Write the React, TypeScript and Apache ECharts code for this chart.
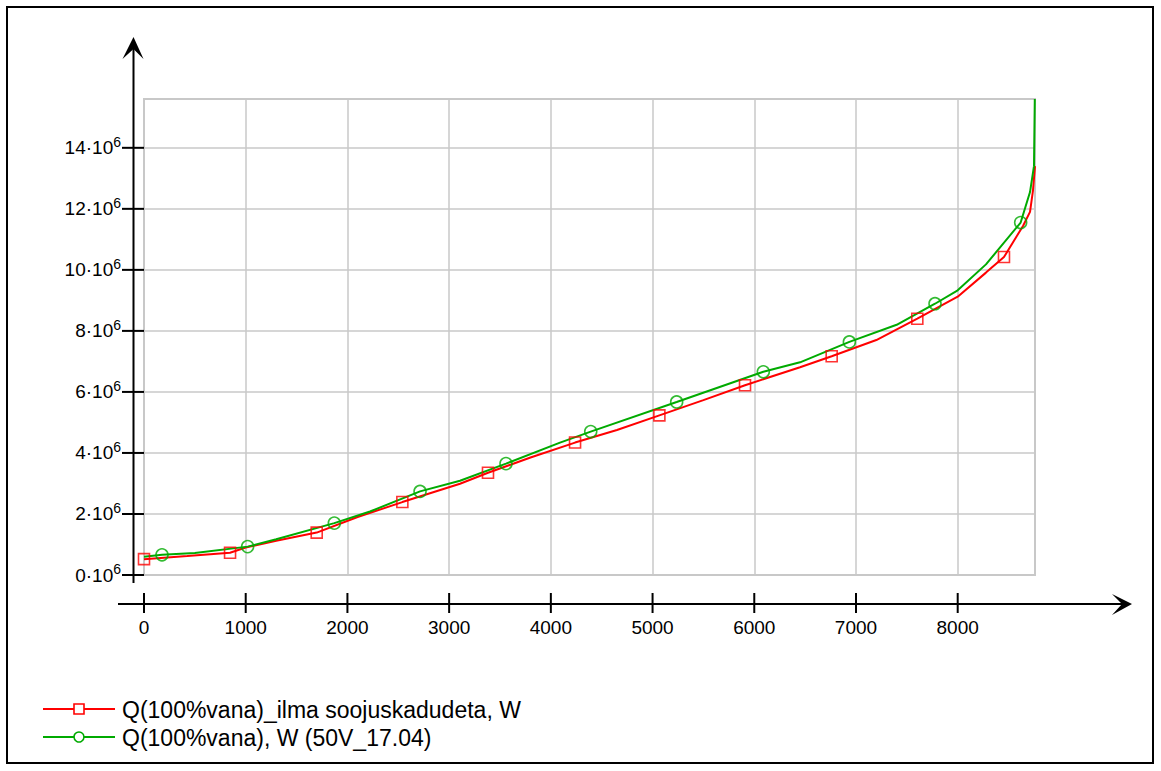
import React, { useEffect, useRef } from "react";
import * as echarts from "echarts";

// Hours of year (x) and heat load in 10^6 W (y)
const redCurve: number[][] = [
  [425, 0.62], [1000, 0.9], [1300, 1.12], [2100, 1.9], [3107, 2.99], [3800, 3.85],
  [4650, 4.75], [5500, 5.73], [6450, 6.81], [7200, 7.7], [8000, 9.12], [8278, 9.91],
  [8642, 11.44], [8711, 11.9], [8740, 12.6], [8760, 13.4],
];
const redMarkers: number[][] = [
  [0, 0.52], [846, 0.73], [1698, 1.39], [2540, 2.39], [3382, 3.35], [4238, 4.34],
  [5067, 5.23], [5909, 6.22], [6761, 7.17], [7603, 8.4], [8455, 10.42],
];
const greenCurve: number[][] = [
  [0, 0.6], [500, 0.72], [1300, 1.17], [2222, 2.08], [3107, 3.09], [4090, 4.34],
  [6450, 6.97], [7400, 8.2], [8000, 9.33], [8278, 10.18], [8711, 12.55], [8750, 13.4],
  [8758, 15.6],
];
const greenMarkers: number[][] = [
  [177, 0.66], [1019, 0.93], [1871, 1.7], [2714, 2.74], [3559, 3.65], [4392, 4.7],
  [5237, 5.67], [6089, 6.66], [6935, 7.64], [7777, 8.89], [8619, 11.55],
];
const xTicks = [0, 1000, 2000, 3000, 4000, 5000, 6000, 7000, 8000];
const yTicks = [0, 2, 4, 6, 8, 10, 12, 14];
const seriesNames = ["Q(100%vana)_ilma soojuskadudeta, W", "Q(100%vana), W (50V_17.04)"];
const xMax = 8760;
const yMax = 15.6;

const FONT = "'Liberation Sans', Arial, sans-serif";

function merge(a: number[][], b: number[][]) {
  return [...a, ...b].sort((p, q) => p[0] - q[0]);
}

export default function App() {
  const ref = useRef<HTMLDivElement>(null);
  useEffect(() => {
    if (!ref.current) return;
    const chart = echarts.init(ref.current, undefined, { renderer: "svg" });
    const tickY = (params: any, api: any) => {
      const p = api.coord([api.value(0), api.value(1)]);
      return {
        type: "line",
        shape: { x1: p[0] - 22, y1: p[1], x2: p[0], y2: p[1] },
        style: { stroke: "#000", lineWidth: 2 },
      };
    };
    const tickX = (params: any, api: any) => {
      const p = api.coord([api.value(0), api.value(1)]);
      return {
        type: "line",
        shape: { x1: p[0], y1: p[1] + 18, x2: p[0], y2: p[1] + 38 },
        style: { stroke: "#000", lineWidth: 2 },
      };
    };
    const option: any = {
      animation: false,
      backgroundColor: "#fff",
      textStyle: { fontFamily: FONT },
      grid: {
        left: 144, top: 99, width: 891, height: 476,
        show: true, borderColor: "#c8c8c8", borderWidth: 2, backgroundColor: "transparent",
      },
      xAxis: {
        type: "value", min: 0, max: xMax, interval: 1000,
        axisLine: { show: false }, axisTick: { show: false },
        splitLine: { show: true, lineStyle: { color: "#c8c8c8", width: 1.5 } },
        axisLabel: {
          margin: 43, fontSize: 19, color: "#000", fontFamily: FONT, showMaxLabel: false,
          formatter: (v: number) => String(v),
        },
      },
      yAxis: {
        type: "value", min: 0, max: yMax, interval: 2,
        axisLine: { show: false }, axisTick: { show: false },
        splitLine: { show: true, lineStyle: { color: "#c8c8c8", width: 1.5 } },
        axisLabel: {
          margin: 23, color: "#000", fontFamily: FONT, showMaxLabel: false,
          formatter: (v: number) => `{a|${v}·10}{b|6}`,
          rich: {
            a: { fontSize: 19, fontFamily: FONT, color: "#000" },
            b: { fontSize: 14, fontFamily: FONT, color: "#000", padding: [0, 0, 12, 0] },
          },
        },
      },
      series: [
        {
          type: "line", name: seriesNames[0], data: merge(redCurve, redMarkers),
          showSymbol: false, symbol: "none", lineStyle: { color: "#ff0000", width: 2 }, z: 3,
        },
        {
          type: "line", name: seriesNames[1], data: merge(greenCurve, greenMarkers),
          showSymbol: false, symbol: "none", lineStyle: { color: "#00aa00", width: 2 }, z: 4,
        },
        {
          type: "scatter", data: redMarkers, symbol: "rect", symbolSize: 11,
          itemStyle: { color: "transparent", borderColor: "#ff0000", borderWidth: 1.6 }, z: 5,
        },
        {
          type: "scatter", data: greenMarkers, symbol: "circle", symbolSize: 12,
          itemStyle: { color: "transparent", borderColor: "#00aa00", borderWidth: 1.6 }, z: 6,
        },
        { type: "custom", data: yTicks.map((v) => [0, v]), renderItem: tickY, clip: false, silent: true, z: 7 },
        { type: "custom", data: xTicks.map((h) => [h, 0]), renderItem: tickX, clip: false, silent: true, z: 7 },
      ],
      graphic: [
        { type: "rect", shape: { x: 7, y: 7, width: 1146, height: 756 }, style: { fill: "none", stroke: "#000", lineWidth: 2 } },
        { type: "line", shape: { x1: 133.5, y1: 42, x2: 133.5, y2: 583 }, style: { stroke: "#000", lineWidth: 2 } },
        { type: "polygon", shape: { points: [[133.5, 37], [143.5, 59], [133.5, 49], [122.5, 59]] }, style: { fill: "#000" } },
        { type: "line", shape: { x1: 118, y1: 604, x2: 1127, y2: 604 }, style: { stroke: "#000", lineWidth: 2 } },
        { type: "polygon", shape: { points: [[1132, 604], [1112, 594], [1122, 604], [1112, 615]] }, style: { fill: "#000" } },
        { type: "line", shape: { x1: 43, y1: 709, x2: 115, y2: 709 }, style: { stroke: "#ff0000", lineWidth: 2 } },
        { type: "rect", shape: { x: 74, y: 704, width: 10, height: 10 }, style: { fill: "#fff", stroke: "#ff0000", lineWidth: 1.6 } },
        { type: "text", x: 122, y: 710, style: { text: seriesNames[0], font: `23px ${FONT}`, fill: "#000", verticalAlign: "middle" } },
        { type: "line", shape: { x1: 43, y1: 737, x2: 115, y2: 737 }, style: { stroke: "#00aa00", lineWidth: 2 } },
        { type: "circle", shape: { cx: 79, cy: 737, r: 5 }, style: { fill: "#fff", stroke: "#00aa00", lineWidth: 1.6 } },
        { type: "text", x: 122, y: 738, style: { text: seriesNames[1], font: `23px ${FONT}`, fill: "#000", verticalAlign: "middle" } },
      ],
    };
    chart.setOption(option);
    return () => chart.dispose();
  }, []);
  return (
    <div
      ref={ref}
      style={{ position: "fixed", left: 0, top: 0, width: 1161, height: 771, background: "#fff" }}
    />
  );
}
